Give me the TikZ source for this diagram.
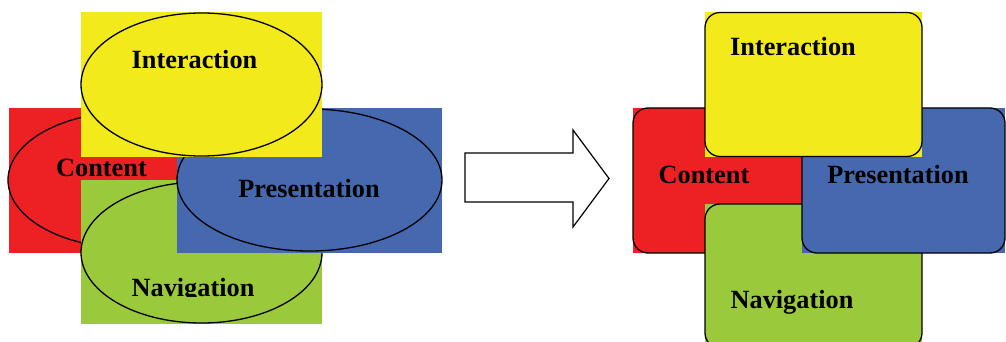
\documentclass[tikz,border=0pt]{standalone}
\usepackage{fontspec}
\setmainfont{Liberation Serif}
\usepackage{xcolor}
\usepackage{tikz}
\usetikzlibrary{positioning}

\definecolor{cred}{RGB}{237,32,36}
\definecolor{cyellow}{RGB}{242,234,26}
\definecolor{cblue}{RGB}{70,104,175}
\definecolor{cgreen}{RGB}{154,202,60}

\tikzset{
  lbl/.style={font=\bfseries\fontsize{26.3}{30}\selectfont, inner sep=0pt, anchor=base},
  rim/.style={draw=black, line width=1.3pt},
}

\begin{document}
\begin{tikzpicture}[x=1pt, y=-1pt]
\useasboundingbox (0,0) rectangle (1006,342);
% left: ellipses on square patches
\fill[cred] (9,108) rectangle (249,253);
\draw[rim, fill=cred] (128.5,180) ellipse [x radius=120.5, y radius=68];
\fill[cgreen] (81,180) rectangle (322,324);
\draw[rim, fill=cgreen] (201.5,252.5) ellipse [x radius=120.5, y radius=70.5];
\fill[cblue] (177,108) rectangle (442,253);
\draw[rim, fill=cblue] (309.5,180) ellipse [x radius=132.5, y radius=71];
\fill[cyellow] (81,12) rectangle (322,157);
\draw[rim, fill=cyellow] (201.5,84.5) ellipse [x radius=120.5, y radius=71.5];
\node[lbl] (intL) at (194.5,69) {Interaction};
\node[lbl] (conL) at (101.5,176) {Content};
\node[lbl] (preL) at (309,197) {Presentation};
\begin{scope}
  \clip (81,150) rectangle (322,296.5);
  \node[lbl] (navL) at (193,296) {Navigation};
\end{scope}
% block arrow
\draw[line width=1.2pt, fill=white, line join=miter]
  (465,153) -- (573,153) -- (573,130) -- (609,178.5) -- (573,227) -- (573,202) -- (465,202) -- cycle;
% right: rounded boxes on square patches
\fill[cred] (633,108) rectangle (850,253);
\draw[rim, fill=cred, rounded corners=15pt] (633,108) rectangle (850,253);
\fill[cgreen] (705,204) rectangle (922,346);
\draw[rim, fill=cgreen, rounded corners=15pt] (705,204) rectangle (922,348);
\fill[cblue] (802,108) rectangle (1005,253);
\draw[rim, fill=cblue, rounded corners=15pt] (802,108) rectangle (1005,253);
\fill[cyellow] (705,12) rectangle (922,157);
\draw[rim, fill=cyellow, rounded corners=15pt] (705,12.5) rectangle (922,156.5);
\node[lbl] (intR) at (793,56) {Interaction};
\node[lbl] (conR) at (704,183) {Content};
\node[lbl] (preR) at (898,183) {Presentation};
\node[lbl] (navR) at (792,308) {Navigation};
\end{tikzpicture}
\end{document}
